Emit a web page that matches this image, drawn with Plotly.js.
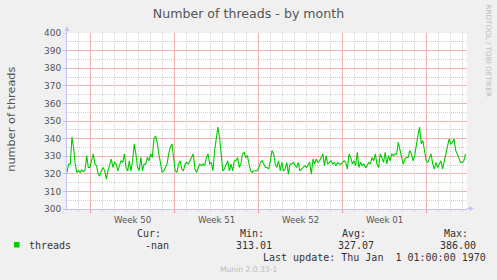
<!DOCTYPE html>
<html><head><meta charset="utf-8">
<script src="https://cdn.plot.ly/plotly-3.0.1.min.js"></script>
<style>html,body{margin:0;padding:0;background:#f0f0f0;overflow:hidden}#chart{width:497px;height:280px;}</style>
</head><body><div id="chart"></div>
<script>
const titleText = 'Number of threads - by month';
const yTitle = 'number of threads';
const seriesName = 'threads';
const startTime = '2019-12-07 01:00';
const stepHours = 3.28;
const threads = [
320.8, 325.5, 325.5, 340.8, 335.1, 325.5, 320.8, 321.7, 320.8, 322.1,
321.3, 322.1, 330.3, 323.6, 323.6, 327.4, 331.3, 325.5, 324.6, 319.8,
318.9, 321.7, 323.6, 321.7, 317.0, 321.7, 325.5, 328.4, 323.6, 326.5,
325.5, 321.7, 324.6, 327.4, 326.5, 331.3, 323.6, 321.7, 327.4, 321.7,
327.4, 337.0, 331.3, 323.6, 321.7, 329.3, 321.7, 325.5, 325.5, 329.3,
327.4, 331.3, 329.3, 339.8, 341.5, 337.9, 331.3, 325.5, 320.8, 321.7,
323.6, 325.5, 331.3, 335.1, 337.0, 329.3, 321.7, 320.8, 325.5, 327.4,
322.7, 321.7, 325.5, 326.5, 325.5, 327.4, 329.3, 331.3, 322.7, 320.8,
323.6, 325.5, 324.6, 325.5, 324.6, 329.3, 331.3, 325.5, 326.5, 321.7,
333.2, 338.9, 346.5, 340.8, 331.3, 321.7, 322.7, 325.5, 327.4, 321.7,
325.5, 321.7, 327.4, 327.4, 329.3, 323.6, 325.5, 331.3, 332.2, 329.3,
330.3, 325.5, 321.7, 320.8, 321.7, 321.7, 321.7, 323.6, 326.5, 327.4,
325.5, 323.6, 323.6, 322.7, 327.4, 333.2, 331.3, 325.5, 323.6, 327.4,
321.7,
326.5, 321.7, 322.7, 326.5, 319.8, 325.5, 325.5, 326.5, 324.6, 323.6,
326.5, 321.7, 322.7, 323.6, 324.6, 323.6, 325.5, 326.5, 319.8, 328.4,
325.5, 328.4, 326.5, 327.4, 329.3, 331.3, 324.6, 330.3, 325.5, 326.5,
327.4, 325.5, 326.5, 324.6, 326.5, 325.5, 325.5, 326.5, 327.4, 326.5,
322.7, 331.3, 329.3, 325.5, 327.4, 324.6, 332.2, 323.6, 326.5, 324.6,
325.5, 323.6, 324.6, 326.5, 325.5, 329.3, 327.4, 331.3, 325.5, 323.6,
331.3, 329.3, 326.5, 332.2, 325.5, 330.3, 327.4, 331.3, 330.3, 331.3,
331.3, 337.9, 333.2, 328.4, 325.5, 328.4, 329.3, 329.3, 333.2, 331.3,
327.4, 330.3, 337.0, 341.7, 346.5, 337.0, 338.9, 334.1, 327.4, 326.5,
329.3, 331.3, 325.5, 322.7, 326.5, 323.6, 325.5, 327.4, 322.7, 327.4,
331.3, 335.1, 339.8, 337.0, 337.9, 339.8, 333.2, 331.3, 328.4, 326.5,
326.5, 327.4, 331.3
];
const weekStarts = ['2019-12-09', '2019-12-16', '2019-12-23', '2019-12-30', '2020-01-06'];
const weekLabels = ['Week 50', 'Week 51', 'Week 52', 'Week 01', ''];
const xRange = ['2019-12-07 01:00', '2020-01-09 09:00'];
const yRange = [300, 400];
const statHeaders = ['Cur:', 'Min:', 'Avg:', 'Max:'];
const statValues = ['-nan', '313.01', '327.07', '386.00'];
const lastUpdate = 'Last update: Thu Jan\u00a0 1 01:00:00 1970';
const watermark = 'Munin 2.0.33-1';
const sideText = 'RRDTOOL / TOBI OETIKER';

// daily minor grid positions (every day in range that is not a week start)
const dayTicks = [];
for (let t = Date.UTC(2019, 11, 8); t <= Date.UTC(2020, 0, 9); t += 86400000) {
  const s = new Date(t).toISOString().slice(0, 10);
  if (!weekStarts.includes(s)) dayTicks.push(s);
}

const W = 497, H = 280, ML = 67, MR = 30, MT = 33, MB = 71;
const PW = W - ML - MR, PH = H - MT - MB;
const px2x = p => (p - ML) / PW;
const py2y = p => (H - MB - p) / PH;

const RED = '#f5b4b4', GRAY = '#d0d0d0', AXIS = '#c4c4f4';
const mono = {family: 'DejaVu Sans Mono', size: 10, color: '#333'};

const trace = {
  type: 'scatter', mode: 'lines', name: seriesName,
  x0: startTime, dx: stepHours * 3600000, y: threads,
  line: {color: '#00cc00', width: 1.1}, hoverinfo: 'skip'
};

const annotations = [
  {xref: 'paper', yref: 'paper', x: px2x(10.7), y: py2y(119), text: yTitle, textangle: -90,
   showarrow: false, xanchor: 'center', yanchor: 'middle', font: {family: 'DejaVu Sans', size: 11.3, color: '#555'}},
  {xref: 'paper', yref: 'paper', x: px2x(488.5), y: py2y(51), text: sideText, textangle: 90,
   showarrow: false, xanchor: 'center', yanchor: 'middle', font: {family: 'DejaVu Sans', size: 7.2, color: '#bdbdbd'}},
  {xref: 'paper', yref: 'paper', x: px2x(27), y: py2y(245.5), text: seriesName,
   showarrow: false, xanchor: 'left', yanchor: 'middle', font: mono},
  {xref: 'paper', yref: 'paper', x: px2x(261), y: py2y(257.7), text: lastUpdate,
   showarrow: false, xanchor: 'left', yanchor: 'middle', font: mono},
  {xref: 'paper', yref: 'paper', x: px2x(248.7), y: py2y(269.5), text: watermark,
   showarrow: false, xanchor: 'center', yanchor: 'middle', font: {family: 'DejaVu Sans', size: 7.6, color: '#bbbbbb'}},
  {xref: 'paper', yref: 'paper', x: px2x(474), y: py2y(208.5), ax: -9, ay: 0, text: '',
   showarrow: true, arrowhead: 2, arrowsize: 1, arrowwidth: 1, arrowcolor: AXIS},
  {xref: 'paper', yref: 'paper', x: px2x(67), y: py2y(26), ax: 0, ay: 9, text: '',
   showarrow: true, arrowhead: 2, arrowsize: 1, arrowwidth: 1, arrowcolor: AXIS}
];
const headRight = [162.3, 265, 366.7, 469.3];
const valRight = [170, 272.7, 375, 477.3];
statHeaders.forEach((t, i) => annotations.push({xref: 'paper', yref: 'paper', x: px2x(headRight[i] + 1), y: py2y(233.7),
  text: t, showarrow: false, xanchor: 'right', yanchor: 'middle', font: mono}));
statValues.forEach((t, i) => annotations.push({xref: 'paper', yref: 'paper', x: px2x(valRight[i] + 1), y: py2y(245.5),
  text: t, showarrow: false, xanchor: 'right', yanchor: 'middle', font: mono}));

const layout = {
  width: W, height: H,
  margin: {l: ML, r: MR, t: MT, b: MB, pad: 0},
  paper_bgcolor: '#f0f0f0', plot_bgcolor: '#ffffff',
  showlegend: false,
  title: {text: titleText, x: 0.5, xref: 'container', y: 1 - 13.5 / H, yref: 'container',
          xanchor: 'center', yanchor: 'middle', font: {family: 'DejaVu Sans', size: 12.6, color: '#555'}},
  xaxis: {
    type: 'date', range: xRange, fixedrange: true,
    tickmode: 'array', tickvals: weekStarts, ticktext: weekLabels, ticklabelshift: 42,
    showgrid: true, gridcolor: RED, griddash: 'solid', gridwidth: 1,
    ticks: 'outside', ticklen: 3, tickcolor: '#f09090',
    showline: true, linecolor: AXIS, linewidth: 1, zeroline: false,
    tickfont: {family: 'DejaVu Sans', size: 8.6, color: '#555'},
    minor: {tickmode: 'array', tickvals: dayTicks, showgrid: true, gridcolor: GRAY, griddash: '1px,1px',
            ticks: 'outside', ticklen: 2, tickcolor: GRAY}
  },
  yaxis: {
    range: yRange, fixedrange: true, dtick: 10, tick0: 300,
    showgrid: true, gridcolor: RED, griddash: 'solid', gridwidth: 1,
    ticks: 'outside', ticklen: 3, tickcolor: AXIS,
    showline: true, linecolor: AXIS, linewidth: 1, zeroline: false,
    tickfont: {family: 'DejaVu Sans', size: 9, color: '#555'},
    minor: {tick0: 305, dtick: 10, showgrid: true, gridcolor: GRAY, griddash: '1px,1px'}
  },
  shapes: [
    {type: 'rect', xref: 'paper', yref: 'paper', x0: px2x(14), x1: px2x(19.5), y0: py2y(247.5), y1: py2y(242),
     fillcolor: '#00cc00', line: {width: 0}}
  ],
  annotations: annotations
};

Plotly.newPlot('chart', [trace], layout, {staticPlot: true, displayModeBar: false});
</script>
</body></html>
